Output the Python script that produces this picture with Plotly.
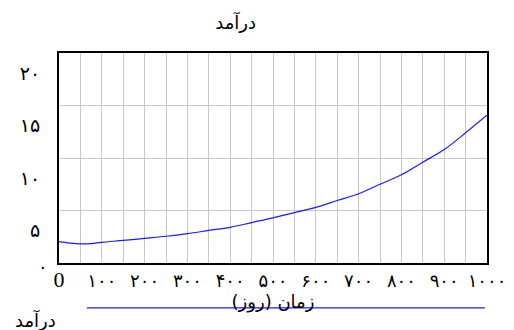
import plotly.graph_objects as go

# time (days) and income values
days = [0, 25, 50, 75, 100, 150, 200, 250, 300, 350, 400, 450, 500,
        550, 600, 650, 700, 750, 800, 850, 900, 950, 1000]
income = [2.03, 1.9, 1.82, 1.85, 1.97, 2.15, 2.35, 2.55, 2.8, 3.1, 3.4, 3.85, 4.3,
          4.8, 5.3, 5.95, 6.6, 7.5, 8.4, 9.6, 10.8, 12.4, 14.1]

x_tickvals = [0, 100, 200, 300, 400, 500, 600, 700, 800, 900, 1000]
x_ticktext = ['<span style="font-family:Liberation Serif;font-size:22px">0</span>',
              '۱۰۰', '۲۰۰', '۳۰۰', '۴۰۰', '۵۰۰', '۶۰۰', '۷۰۰', '۸۰۰', '۹۰۰', '۱۰۰۰']
y_tickvals = [5, 10, 15, 20]
y_ticktext = ['۵', '۱۰', '۱۵', '۲۰']

title_text = 'درآمد'
x_title = 'زمان (روز)'
series_name = 'درآمد'

persian_font = 'DejaVu Sans'

fig = go.Figure()
fig.add_trace(go.Scatter(
    x=days, y=income, mode='lines', line_shape='spline',
    line={'color': '#1a1aff', 'width': 1.2}, name=series_name, showlegend=False))

# page body has an 8px margin, so the figure is a bit smaller than the window
fig.update_layout(
    width=506, height=322,
    margin=dict(l=51, r=27, t=45, b=67, autoexpand=False),
    paper_bgcolor='white', plot_bgcolor='white',
    title=dict(text=title_text, x=0.45, xanchor='center', y=0.955, yanchor='middle',
               font=dict(family=persian_font, size=18, color='black')),
    font=dict(family=persian_font, color='black'),
)
fig.update_xaxes(
    range=[0, 1000], tickvals=x_tickvals, ticktext=x_ticktext, automargin=False,
    showgrid=False, showline=True, linecolor='black', linewidth=2, mirror=True,
    ticks='', tickfont=dict(size=18), zeroline=False,
    title=dict(text=x_title, font=dict(size=18), standoff=0),
)
# thin vertical grid every 50 days
fig.update_xaxes(minor=dict(dtick=50, showgrid=True, gridcolor='#c8c8c8', gridwidth=1),
                 tick0=0)
fig.update_yaxes(
    range=[0, 20], tickvals=y_tickvals, ticktext=y_ticktext, automargin=False,
    showgrid=True, gridcolor='#c8c8c8', gridwidth=1,
    showline=True, linecolor='black', linewidth=2, mirror=True,
    ticks='', tickfont=dict(size=19), zeroline=False,
    ticklabelshift=20, ticklabelstandoff=13,
)
# the zero of the y axis sits apart from the other labels
fig.add_annotation(x=0, y=0, xref='paper', yref='y', text='۰', showarrow=False,
                   xshift=-23, yshift=-3, font=dict(family=persian_font, size=18))
# legend: long blue sample line with the series name under its left end
fig.add_shape(type='line', xref='paper', yref='paper', x0=0.065, x1=0.995,
              y0=-0.214, y1=-0.214, line=dict(color='#1a1aff', width=1.2))
fig.add_annotation(x=-0.107, y=-0.271, xref='paper', yref='paper', text=series_name,
                   showarrow=False, xanchor='left', yanchor='middle',
                   font=dict(family=persian_font, size=18))

fig.write_html("out.html")
